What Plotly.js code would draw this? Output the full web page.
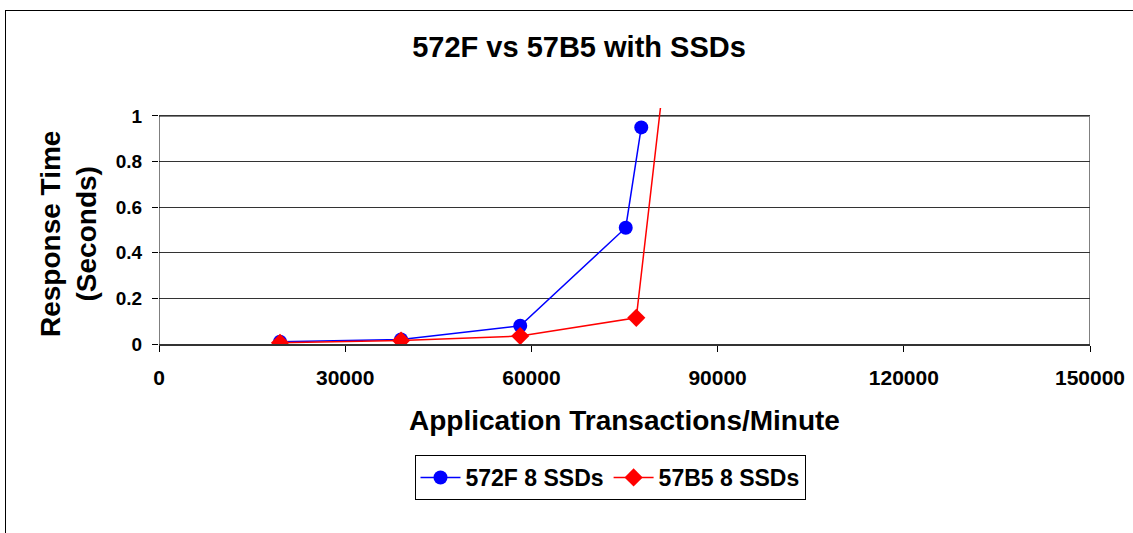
<!DOCTYPE html>
<html>
<head>
<meta charset="utf-8">
<script src="https://cdn.plot.ly/plotly-3.0.1.min.js"></script>
<style>
  html, body { margin: 0; padding: 0; background: #fff; }
  #chart { width: 1133px; height: 533px; }
</style>
</head>
<body>
<div id="chart"></div>
<script>
// transactions per minute and response time (s)
var x572F = [19500, 39000, 58200, 75200, 77700];
var y572F = [0.01, 0.02, 0.08, 0.51, 0.95];
var x57B5 = [19500, 39000, 58200, 76900, 81700];
var y57B5 = [0.005, 0.015, 0.035, 0.115, 1.25];
var yTicks = [0, 0.2, 0.4, 0.6, 0.8, 1];
var xTicks = [0, 30000, 60000, 90000, 120000, 150000];

var FONT = 'Arial, "Liberation Sans", sans-serif';

var trace1 = {
    x: x572F, y: y572F,
    type: 'scatter', mode: 'lines+markers',
    name: '572F 8 SSDs',
    line: {color: '#0000ff', width: 1.5},
    marker: {color: '#0000ff', size: 14, symbol: 'circle'}
};
var trace2 = {
    x: x57B5, y: y57B5,
    type: 'scatter', mode: 'lines+markers',
    name: '57B5 8 SSDs',
    line: {color: '#ff0000', width: 1.5},
    marker: {color: '#ff0000', size: 14, symbol: 'diamond'}
};

// plot area in px: x 159..1090, y 108..344
function px2x(p) { return (p - 159) / 931; }
function py2y(p) { return (344 - p) / 236; }

var layout = {
    width: 1133, height: 533,
    margin: {l: 159, r: 43, t: 108, b: 189},
    paper_bgcolor: '#fff', plot_bgcolor: '#fff',
    font: {family: FONT, color: '#000'},
    showlegend: true,
    title: {
        text: '572F vs 57B5 with SSDs',
        font: {family: FONT, size: 29, weight: 'bold', color: '#000'},
        xref: 'container', x: 579 / 1133, xanchor: 'center',
        yref: 'container', y: 1 - 47 / 533, yanchor: 'middle'
    },
    xaxis: {
        range: [0, 150000],
        tickvals: xTicks,
        ticktext: xTicks.map(String),
        ticks: 'outside', ticklen: 6, tickcolor: '#000', tickwidth: 1,
        ticklabelstandoff: 8,
        showgrid: false, zeroline: false,
        showline: true, linecolor: '#333', linewidth: 1.5,
        tickfont: {family: FONT, size: 21, weight: 'bold', color: '#000'}
    },
    yaxis: {
        range: [0, 1.035],
        tickvals: yTicks,
        ticktext: yTicks.map(String),
        ticks: 'outside', ticklen: 6, tickcolor: '#000', tickwidth: 1,
        ticklabelstandoff: 6,
        showgrid: true, gridcolor: '#333', gridwidth: 1,
        zeroline: false, showline: false,
        tickfont: {family: FONT, size: 19, weight: 'bold', color: '#000'}
    },
    legend: {
        orientation: 'h',
        x: px2x(610), xanchor: 'center',
        y: py2y(455), yanchor: 'top',
        bordercolor: '#000', borderwidth: 1,
        font: {family: FONT, size: 23, weight: 'bold', color: '#000'},
        itemwidth: 40
    },
    annotations: [
        {
            text: 'Application Transactions/Minute',
            xref: 'paper', yref: 'paper',
            x: px2x(624), y: py2y(420), xanchor: 'center', yanchor: 'middle',
            showarrow: false,
            font: {family: FONT, size: 28, weight: 'bold', color: '#000'}
        },
        {
            text: 'Response Time<br>(Seconds)',
            xref: 'paper', yref: 'paper',
            x: px2x(68), y: py2y(234), xanchor: 'center', yanchor: 'middle',
            textangle: -90, showarrow: false,
            font: {family: FONT, size: 28, weight: 'bold', color: '#000'}
        }
    ],
    shapes: [
        // top and right plot borders
        {type: 'line', xref: 'x', yref: 'y', x0: 0, x1: 150000, y0: 1, y1: 1,
         line: {color: '#808080', width: 2}, layer: 'below'},
        {type: 'line', xref: 'x', yref: 'y', x0: 150000, x1: 150000, y0: 0, y1: 1,
         line: {color: '#808080', width: 2}, layer: 'below'},
        // left axis line
        {type: 'line', xref: 'x', yref: 'y', x0: 0, x1: 0, y0: 0, y1: 1,
         line: {color: '#000', width: 1}},
        // chart frame
        {type: 'line', xref: 'paper', yref: 'paper',
         x0: px2x(5), x1: px2x(1140), y0: py2y(10.5), y1: py2y(10.5),
         line: {color: '#000', width: 1}},
        {type: 'line', xref: 'paper', yref: 'paper',
         x0: px2x(5.5), x1: px2x(5.5), y0: py2y(10), y1: py2y(540),
         line: {color: '#000', width: 1}}
    ]
};

Plotly.newPlot('chart', [trace1, trace2], layout, {displayModeBar: false, staticPlot: true});
</script>
</body>
</html>
